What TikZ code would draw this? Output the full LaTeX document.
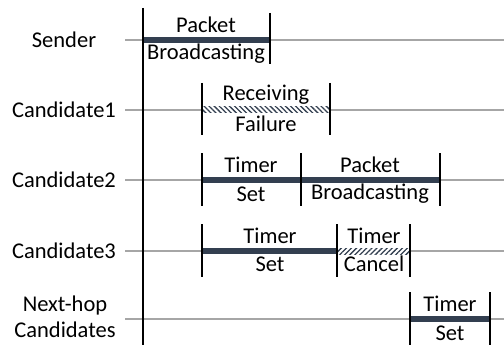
\documentclass[tikz,border=0pt]{standalone}
\usepackage{fontspec}
\setmainfont{Carlito}
\usetikzlibrary{patterns.meta}
\definecolor{barc}{HTML}{333F50}
\definecolor{linec}{HTML}{A6A6A6}
\begin{document}
\begin{tikzpicture}[x=1pt,y=-1pt,
  lbl/.style={font=\fontsize{22.5}{26}\selectfont, inner sep=0pt, align=center},
  tline/.style={draw=linec, line width=2.2pt},
  bar/.style={draw=barc, line width=6pt},
  hatchA/.style={pattern={Lines[angle=-45,distance=3.6pt,line width=1.3pt]}, pattern color=barc},
  hatchB/.style={pattern={Lines[angle=45,distance=3.6pt,line width=1.3pt]}, pattern color=barc},
  tick/.style={draw=black, line width=2.6pt}]
\useasboundingbox (0,0) rectangle (504,345);
% row labels
\node[lbl] (s) at (64,40) {Sender};
\node[lbl] (c1) at (64,110) {Candidate1};
\node[lbl] (c2) at (64,180) {Candidate2};
\node[lbl] (c3) at (64,251) {Candidate3};
\node[lbl] (nh) at (65,317) {Next-hop\\Candidates};
% time lines
\foreach \y in {40,110,180,251,319} \draw[tline] (125,\y) -- (504,\y);
% Sender
\draw[bar] (143,40) -- (270,40);
\node[lbl] (sp) at (206,25) {Packet};
\node[lbl] (sb) at (206,54) {Broadcasting};
% Candidate1
\fill[white] (202,107) rectangle (330,113);
\fill[hatchA] (202,107) rectangle (330,113);
\node[lbl] (c1r) at (266,95) {Receiving};
\node[lbl] (c1f) at (266,124) {Failure};
% Candidate2
\draw[bar] (202,180) -- (440,180);
\node[lbl] (c2t) at (251,165) {Timer};
\node[lbl] (c2s) at (251,194) {Set};
\node[lbl] (c2p) at (370,165) {Packet};
\node[lbl] (c2b) at (370,194) {Broadcasting};
% Candidate3
\draw[bar] (202,251) -- (337,251);
\fill[white] (337,248) rectangle (410,254);
\fill[hatchB] (337,248) rectangle (410,254);
\node[lbl] (c3t) at (270,236) {Timer};
\node[lbl] (c3s) at (270,264) {Set};
\node[lbl] (c3x) at (374,236) {Timer};
\node[lbl] (c3c) at (374,264) {Cancel};
% Next-hop
\draw[bar] (410,319) -- (490,319);
\node[lbl] (nt) at (450,304) {Timer};
\node[lbl] (ns) at (450,333) {Set};
% ticks
\draw[tick] (143,8) -- (143,345);
\draw[tick] (270,13) -- (270,64);
\foreach \x in {202,330} \draw[tick] (\x,83) -- (\x,135);
\foreach \x in {202,301,440} \draw[tick] (\x,153) -- (\x,206);
\foreach \x in {202,337,410} \draw[tick] (\x,224) -- (\x,277);
\foreach \x in {410,490} \draw[tick] (\x,292) -- (\x,345);
\end{tikzpicture}
\end{document}
